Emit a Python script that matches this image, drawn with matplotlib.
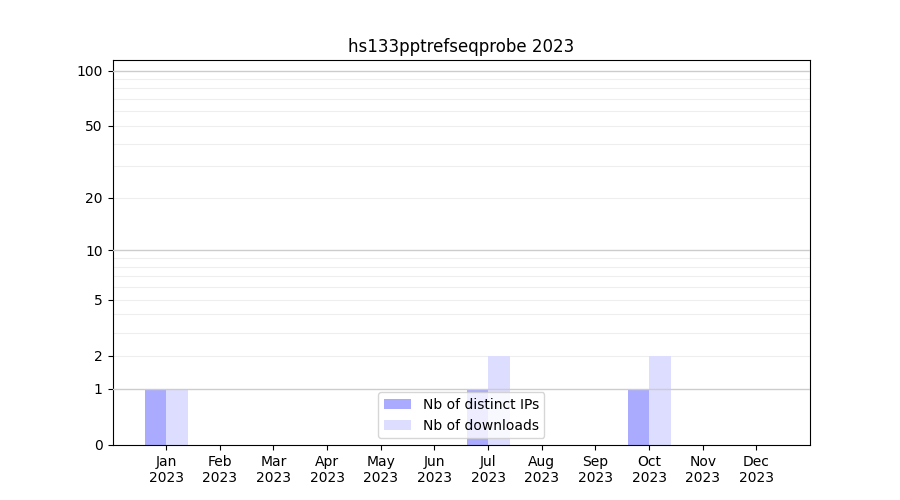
import matplotlib
matplotlib.use("Agg")
import matplotlib.pyplot as plt
import numpy as np

MONTHS = ["Jan", "Feb", "Mar", "Apr", "May", "Jun",
          "Jul", "Aug", "Sep", "Oct", "Nov", "Dec"]
YEAR = "2023"
DISTINCT_IPS = [1, 0, 0, 0, 0, 0, 1, 0, 0, 1, 0, 0]
DOWNLOADS = [1, 0, 0, 0, 0, 0, 2, 0, 0, 2, 0, 0]
Y_TICKS = [0, 1, 2, 5, 10, 20, 50, 100]

C_IPS = "#aaaaff"
C_DL = "#ddddff"


def fwd(y):
    return np.log10(1 + np.clip(y, 0, None))


def inv(y):
    return 10 ** y - 1


fig, ax = plt.subplots(figsize=(9, 5), dpi=100)
x = np.arange(len(MONTHS))
w = 0.4
ax.bar(x - w / 2, DISTINCT_IPS, width=w, color=C_IPS, label="Nb of distinct IPs", zorder=2)
ax.bar(x + w / 2, DOWNLOADS, width=w, color=C_DL, label="Nb of downloads", zorder=2)

ax.set_yscale("function", functions=(fwd, inv))
ax.set_ylim(0, 114)
ax.set_xlim(-1, 12)

# grid: decades darker, in-between values light
for d in [1, 10, 100]:
    ax.axhline(d, color="#cccccc", lw=1, zorder=3)
    for k in range(2, 10):
        if d * k < 114:
            ax.axhline(d * k, color="#eeeeee", lw=0.8, zorder=1)

ax.set_yticks(Y_TICKS)
ax.set_yticklabels([str(t) for t in Y_TICKS])
ax.yaxis.set_minor_locator(matplotlib.ticker.NullLocator())
ax.set_xticks(x)
ax.set_xticklabels([f"{m}\n{YEAR}" for m in MONTHS])

ax.set_title("hs133pptrefseqprobe 2023")
ax.legend(loc="lower center")

fig.savefig("out.png", dpi=100)
